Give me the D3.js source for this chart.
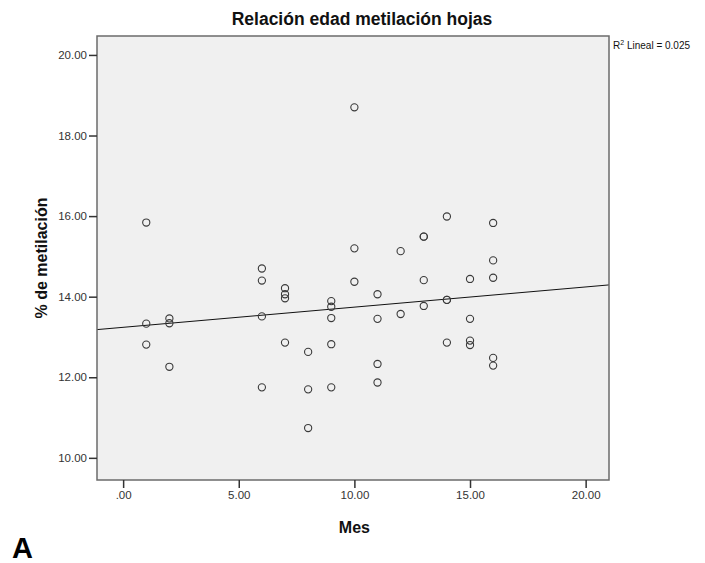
<!DOCTYPE html>
<html>
<head>
<meta charset="utf-8">
<script src="https://cdn.jsdelivr.net/npm/d3@7"></script>
<style>
  body { margin: 0; background: #fff; }
  text { font-family: Arial, "Liberation Sans", sans-serif; }
</style>
</head>
<body>
<div id="chart"></div>
<script>
// Data: months and % methylation
const mes = [1, 1, 1, 2, 2, 2, 6, 6, 6, 6, 7, 7, 7, 7, 8, 8, 8,
    9, 9, 9, 9, 9, 10, 10, 10, 11, 11, 11, 11, 12, 12,
    13, 13, 13, 13, 14, 14, 14, 14, 15, 15, 15, 15,
    16, 16, 16, 16, 16];
const metilacion = [15.84, 13.33, 12.81, 13.46, 13.34, 12.26,
    14.70, 14.40, 13.51, 11.75, 14.21, 14.06, 13.96, 12.86,
    12.63, 11.70, 10.74, 13.89, 13.75, 13.47, 12.82, 11.75,
    18.70, 15.20, 14.37, 14.06, 13.45, 12.33, 11.87, 15.13, 13.57,
    15.49, 15.49, 14.41, 13.77, 15.99, 13.92, 13.92, 12.86,
    14.44, 13.45, 12.91, 12.80, 15.83, 14.90, 14.47, 12.48, 12.29];
const xTicks = [0, 5, 10, 15, 20];
const yTicks = [10, 12, 14, 16, 18, 20];
const r2Label = "0.025";

const data = mes.map((m, i) => ({ x: m, y: metilacion[i] }));

// Set dimensions and margins
const W = 705, H = 563;
const margin = { top: 36, right: 96, bottom: 83, left: 97 };
const width = W - margin.left - margin.right;
const height = H - margin.top - margin.bottom;

const xScale = d3.scaleLinear().domain([-1.13, 21.01]).range([0, width]);
const yScale = d3.scaleLinear().domain([9.45, 20.47]).range([height, 0]);

const root = d3.select("#chart")
    .append("svg")
    .attr("width", W)
    .attr("height", H);

const svg = root.append("g")
    .attr("transform", `translate(${margin.left}, ${margin.top})`);

// plot background
svg.append("rect")
    .attr("width", width)
    .attr("height", height)
    .attr("fill", "#f0f0f0");

svg.append("clipPath")
    .attr("id", "clip")
    .append("rect")
    .attr("width", width)
    .attr("height", height);

// least squares fit line
const mx = d3.mean(data, d => d.x);
const my = d3.mean(data, d => d.y);
const slope = d3.sum(data, d => (d.x - mx) * (d.y - my)) / d3.sum(data, d => (d.x - mx) ** 2);
const intercept = my - slope * mx;
const [x0, x1] = xScale.domain();

svg.append("line")
    .attr("clip-path", "url(#clip)")
    .attr("x1", xScale(x0))
    .attr("y1", yScale(intercept + slope * x0))
    .attr("x2", xScale(x1))
    .attr("y2", yScale(intercept + slope * x1))
    .attr("stroke", "#111")
    .attr("stroke-width", 1);

// points
svg.selectAll(".pt")
    .data(data)
    .enter()
    .append("circle")
    .attr("class", "pt")
    .attr("cx", d => xScale(d.x))
    .attr("cy", d => yScale(d.y))
    .attr("r", 3.6)
    .attr("fill", "none")
    .attr("stroke", "#3a3a3a")
    .attr("stroke-width", 1.1);

// frame
svg.append("rect")
    .attr("width", width)
    .attr("height", height)
    .attr("fill", "none")
    .attr("stroke", "#6b6b6b")
    .attr("stroke-width", 1.5);

// x axis
const xAxis = svg.append("g")
    .attr("transform", `translate(0,${height})`)
    .call(d3.axisBottom(xScale)
        .tickValues(xTicks)
        .tickSize(8)
        .tickPadding(3)
        .tickFormat(d => d === 0 ? ".00" : d.toFixed(2)));
xAxis.select(".domain").remove();

// y axis
const yAxis = svg.append("g")
    .call(d3.axisLeft(yScale)
        .tickValues(yTicks)
        .tickSize(8)
        .tickPadding(2)
        .tickFormat(d => d.toFixed(2)));
yAxis.select(".domain").remove();

svg.selectAll(".tick line")
    .attr("stroke", "#333")
    .attr("stroke-width", 1.5);
svg.selectAll(".tick text")
    .attr("fill", "#333")
    .style("font-family", "Arial, 'Liberation Sans', sans-serif")
    .style("font-size", "11.5px");

// title
root.append("text")
    .attr("x", 362)
    .attr("y", 25)
    .attr("text-anchor", "middle")
    .style("font-size", "17.5px")
    .style("font-weight", "bold")
    .attr("fill", "#111")
    .text("Relación edad metilación hojas");

// axis titles
root.append("text")
    .attr("transform", `translate(47, ${margin.top + height / 2}) rotate(-90)`)
    .attr("text-anchor", "middle")
    .style("font-size", "16px")
    .style("font-weight", "bold")
    .attr("fill", "#111")
    .text("% de metilación");

root.append("text")
    .attr("x", margin.left + xScale(10))
    .attr("y", 533)
    .attr("text-anchor", "middle")
    .style("font-size", "16px")
    .style("font-weight", "bold")
    .attr("fill", "#111")
    .text("Mes");

// R2 label
const r2 = root.append("text")
    .attr("x", 613)
    .attr("y", 49)
    .style("font-size", "10px")
    .attr("fill", "#111");
r2.append("tspan").text("R");
r2.append("tspan").attr("dy", -4).style("font-size", "7px").text("2");
r2.append("tspan").attr("dy", 4).text(" Lineal = " + r2Label);

// panel letter
root.append("text")
    .attr("x", 12)
    .attr("y", 558)
    .style("font-size", "29px")
    .style("font-weight", "bold")
    .attr("fill", "#000")
    .text("A");
</script>
</body>
</html>
